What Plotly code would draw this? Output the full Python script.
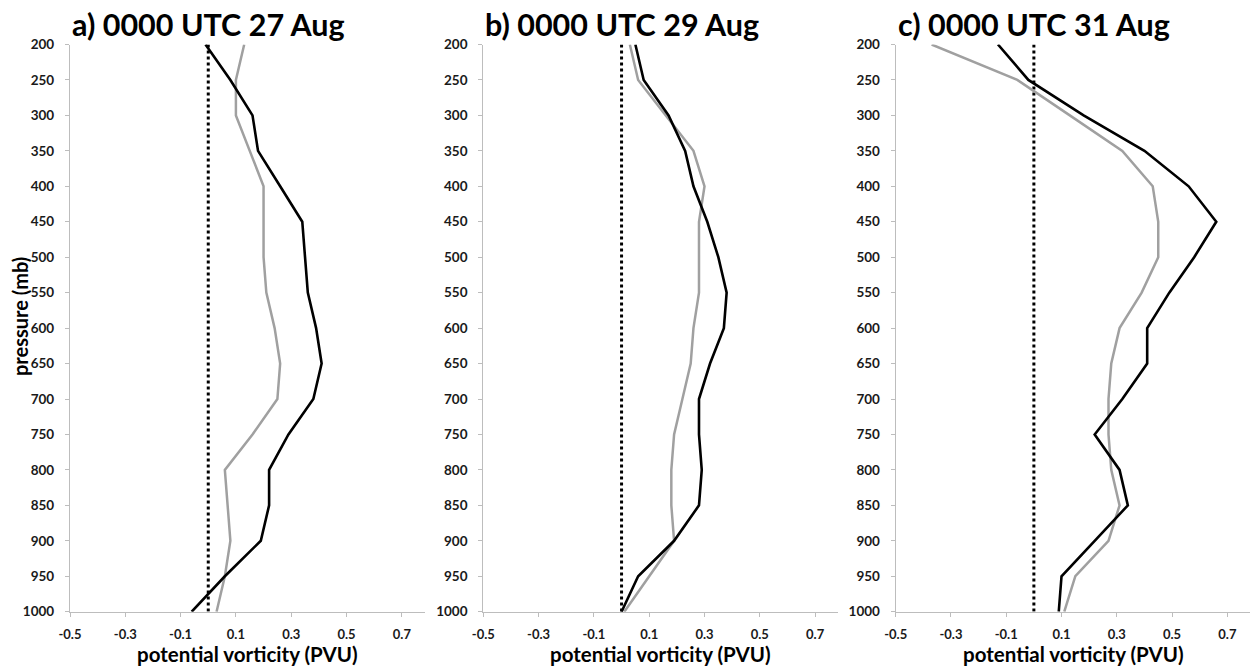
import plotly.graph_objects as go

# Pressure levels (mb)
pressure = [200, 250, 300, 350, 400, 450, 500, 550, 600, 650, 700, 750, 800, 850, 900, 950, 1000]

# Potential vorticity profiles (PVU)
a_black = [-0.01, 0.08, 0.16, 0.18, 0.26, 0.34, 0.35, 0.36, 0.39, 0.41, 0.38, 0.29, 0.22, 0.22, 0.19, 0.06, -0.06]
a_gray = [0.13, 0.10, 0.10, 0.15, 0.20, 0.20, 0.20, 0.21, 0.24, 0.26, 0.25, 0.16, 0.06, 0.07, 0.08, 0.06, 0.03]
b_black = [0.05, 0.08, 0.17, 0.23, 0.26, 0.31, 0.35, 0.38, 0.37, 0.32, 0.28, 0.28, 0.29, 0.28, 0.19, 0.06, 0.00]
b_gray = [0.03, 0.06, 0.16, 0.26, 0.30, 0.28, 0.28, 0.28, 0.26, 0.25, 0.22, 0.19, 0.18, 0.18, 0.19, 0.10, 0.01]
c_black = [-0.13, -0.02, 0.18, 0.40, 0.56, 0.66, 0.58, 0.49, 0.41, 0.41, 0.32, 0.22, 0.31, 0.34, 0.22, 0.10, 0.09]
c_gray = [-0.37, -0.06, 0.13, 0.32, 0.43, 0.45, 0.45, 0.39, 0.31, 0.28, 0.27, 0.27, 0.28, 0.31, 0.27, 0.15, 0.11]

panel_titles = ["a) 0000 UTC 27 Aug", "b) 0000 UTC 29 Aug", "c) 0000 UTC 31 Aug"]
x_title = "potential vorticity (PVU)"
y_title = "pressure (mb)"
x_tick_vals = [-0.5, -0.3, -0.1, 0.1, 0.3, 0.5, 0.7]
x_tick_text = ["-0.5", "-0.3", "-0.1", "0.1", "0.3", "0.5", "0.7"]
y_tick_vals = pressure
zero_line_x = [0, 0]
zero_line_y = [200, 1000]

W, H = 1250, 667
FONT = "Lato"
AXIS_GRAY = "#bdbdbd"
LINE_GRAY = "#a0a0a0"
X_RANGE = [-0.5, 0.782]

# Plot-area geometry in pixels
left_px = [70, 483.3, 895.7]
plot_w = 354.5
top_px, bottom_px = 44.5, 611.7

fig = go.Figure()
profiles = [(a_gray, a_black), (b_gray, b_black), (c_gray, c_black)]

for i, (gray, black) in enumerate(profiles):
    sfx = "" if i == 0 else str(i + 1)
    xa, ya = "x" + sfx, "y" + sfx
    fig.add_trace(go.Scatter(x=zero_line_x, y=zero_line_y, mode="lines",
                             line=dict(color="black", width=3, dash="dot"),
                             xaxis=xa, yaxis=ya, showlegend=False))
    fig.add_trace(go.Scatter(x=gray, y=pressure, mode="lines",
                             line=dict(color=LINE_GRAY, width=2.5),
                             xaxis=xa, yaxis=ya, showlegend=False))
    fig.add_trace(go.Scatter(x=black, y=pressure, mode="lines",
                             line=dict(color="black", width=2.6),
                             xaxis=xa, yaxis=ya, showlegend=False))

    x0 = left_px[i] / W
    x1 = min((left_px[i] + plot_w) / W, 1.0)
    xaxis = dict(
        domain=[x0, x1], range=X_RANGE, anchor=ya, automargin=False,
        showgrid=False, zeroline=False, showline=True, linecolor=AXIS_GRAY, linewidth=1.2,
        tickmode="array", tickvals=x_tick_vals, ticktext=x_tick_text,
        ticks="outside", ticklen=4, tickcolor=AXIS_GRAY, tickwidth=1,
        tickfont=dict(family=FONT, size=13, color="#1a1a1a", weight="bold"),
        ticklabelstandoff=7,
    )
    yaxis = dict(
        domain=[(H - bottom_px) / H, (H - top_px) / H], range=[1000, 200], anchor=xa,
        automargin=False,
        showgrid=False, zeroline=False, showline=True, linecolor=AXIS_GRAY, linewidth=1.2,
        tickmode="array", tickvals=y_tick_vals,
        ticks="outside", ticklen=4, tickcolor=AXIS_GRAY, tickwidth=1,
        tickfont=dict(family=FONT, size=13.5, color="#1a1a1a", weight="bold"),
        ticklabelstandoff=8,
    )
    fig.layout["xaxis" + sfx] = xaxis
    fig.layout["yaxis" + sfx] = yaxis

    # panel heading centred over the zero line
    zero_px = left_px[i] + (0 - X_RANGE[0]) / (X_RANGE[1] - X_RANGE[0]) * plot_w
    fig.add_annotation(text=panel_titles[i], x=zero_px / W, y=1 - 24 / H,
                       xref="paper", yref="paper", xanchor="center", yanchor="middle",
                       showarrow=False,
                       font=dict(family=FONT, size=30.5, color="black", weight="bold"))

    # horizontal axis label centred under the axis, resting on the bottom edge
    fig.add_annotation(text=x_title, x=(left_px[i] + 177.5) / W, y=0,
                       xref="paper", yref="paper", xanchor="center", yanchor="bottom",
                       showarrow=False, borderpad=0,
                       font=dict(family=FONT, size=20.5, color="black", weight="bold"))

# vertical axis label for the first panel
fig.add_annotation(text=y_title, textangle=-90, x=20 / W, y=1 - 317 / H,
                   xref="paper", yref="paper", xanchor="center", yanchor="middle",
                   showarrow=False,
                   font=dict(family=FONT, size=20, color="black", weight="bold"))

fig.update_layout(width=W, height=H, margin=dict(l=0, r=0, t=0, b=0),
                  paper_bgcolor="white", plot_bgcolor="white")
fig.write_html("out.html")
